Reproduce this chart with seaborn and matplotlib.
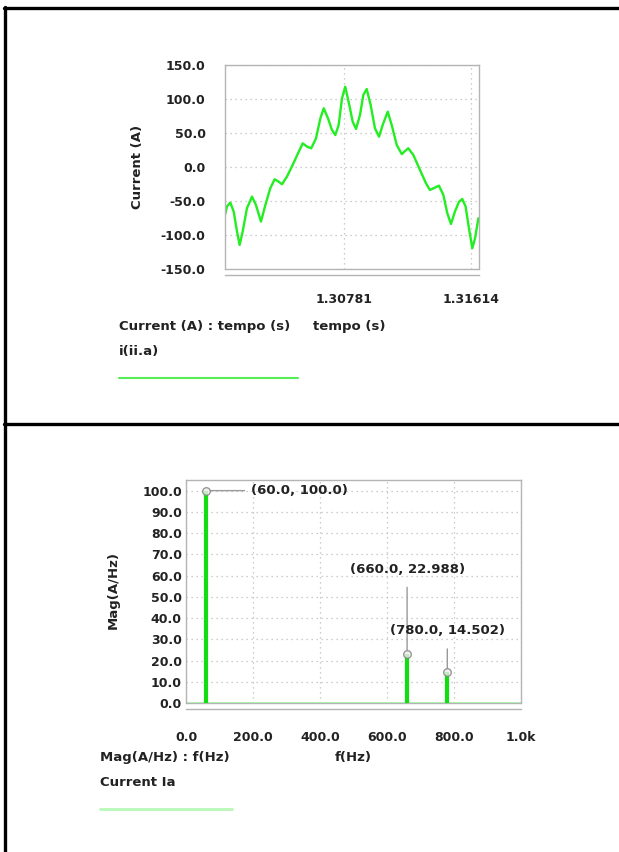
import matplotlib.pyplot as plt
import matplotlib.lines as mlines
import seaborn as sns

# waveform: tempo (s) / Current (A)
tempo = [1.30000, 1.30013, 1.30035, 1.30057, 1.30079, 1.30096, 1.30116, 1.30144,
         1.30177, 1.30203, 1.30236, 1.30265, 1.30297, 1.30326, 1.30352, 1.30374,
         1.30407, 1.30444, 1.30479, 1.30510, 1.30538, 1.30566, 1.30597, 1.30626,
         1.30648, 1.30676, 1.30702, 1.30724, 1.30746, 1.30768, 1.30789, 1.30816,
         1.30838, 1.30860, 1.30886, 1.30908, 1.30930, 1.30956, 1.30984, 1.31011,
         1.31035, 1.31068, 1.31094, 1.31127, 1.31160, 1.31181, 1.31203, 1.31236,
         1.31280, 1.31319, 1.31345, 1.31378, 1.31404, 1.31433, 1.31459, 1.31483,
         1.31509, 1.31536, 1.31557, 1.31579, 1.31601, 1.31623, 1.31641, 1.31663]
corrente = [-70.5, -58.0, -52.4, -65.6, -95.0, -114.6, -95.0, -60.7,
            -43.6, -55.8, -80.3, -55.8, -31.3, -18.0, -21.5, -25.4,
            -14.0, 3.0, 20.0, 34.8, 30.0, 27.5, 42.0, 71.6,
            86.3, 71.6, 54.4, 47.0, 61.8, 101.0, 118.0, 91.0,
            66.7, 56.0, 76.5, 106.0, 114.7, 91.0, 57.0, 44.6,
            61.8, 81.4, 61.8, 32.4, 19.0, 23.4, 27.5, 17.7,
            -4.4, -24.0, -33.8, -30.3, -27.4, -41.0, -68.0, -83.8,
            -65.6, -51.0, -47.0, -58.0, -90.0, -119.5, -104.8, -75.4]

# spectrum: f(Hz) / Mag(A/Hz)
freq = [60.0, 660.0, 780.0]
mag = [100.0, 22.988, 14.502]
base_f = [0.0, 1000.0]
base_mag = [0.0, 0.0]
labels = ["(60.0, 100.0)", "(660.0, 22.988)", "(780.0, 14.502)"]

top_ticks = [1.30781, 1.31614]
top_ticklabels = ["1.30781", "1.31614"]
top_yticks = [150, 100, 50, 0, -50, -100, -150]
bot_xticks = [0, 200, 400, 600, 800, 1000]
bot_xticklabels = ["0.0", "200.0", "400.0", "600.0", "800.0", "1.0k"]
bot_yticks = [0, 10, 20, 30, 40, 50, 60, 70, 80, 90, 100]

sns.set_style("white")
plt.rcParams["font.family"] = ["DejaVu Sans"]

W, H = 619, 852
fig = plt.figure(figsize=(6.19, 8.52), dpi=100)


def fx(px):
    return px / W


def fy(py):
    return 1 - py / H


BOX = "#b4b4b4"
GRID = "#bdbdbd"
FS = 9


def frame(ax, ypad, xpad):
    for s in ax.spines.values():
        s.set_color(BOX)
        s.set_linewidth(1.0)
    ax.spines["bottom"].set_position(("outward", 4))
    ax.axhline(ax.get_ylim()[0], color=BOX, lw=1.0, clip_on=False, zorder=0)
    ax.grid(True, ls=(0, (1, 3)), color=GRID, lw=0.9)
    ax.tick_params(axis="x", length=7, width=1, color="#9a9a9a", pad=xpad, labelsize=FS)
    ax.tick_params(axis="y", length=0, pad=ypad, labelsize=FS)
    for t in ax.get_xticklabels() + ax.get_yticklabels():
        t.set_fontweight("bold")
        t.set_color("#222222")
    ax.set_xlabel("")
    ax.set_ylabel("")


# ---- top panel: current waveform ----
ax1 = fig.add_axes([fx(225), fy(269), fx(479) - fx(225), fy(65) - fy(269)])
sns.lineplot(x=tempo, y=corrente, sort=False, estimator=None, color="#22ee22", lw=1.7,
             solid_joinstyle="round", ax=ax1)
ax1.set_xlim(1.30000, 1.31667)
ax1.set_ylim(-150, 150)
ax1.set_xticks(top_ticks)
ax1.set_xticklabels(top_ticklabels)
ax1.set_yticks(top_yticks)
ax1.set_yticklabels([f"{v:.1f}" for v in top_yticks])
frame(ax1, 14, 6)

fig.text(fx(137), fy(167), "Current (A)", rotation=90, ha="center", va="center",
         fontsize=FS + 0.5, fontweight="bold", color="#222222")
fig.text(fx(119), fy(326), "Current (A) : tempo (s)", ha="left", va="center",
         fontsize=FS + 0.5, fontweight="bold", color="#222222")
fig.text(fx(313), fy(326), "tempo (s)", ha="left", va="center",
         fontsize=FS + 0.5, fontweight="bold", color="#222222")
fig.text(fx(119), fy(352), "i(ii.a)", ha="left", va="center",
         fontsize=FS + 0.5, fontweight="bold", color="#222222")
fig.add_artist(mlines.Line2D([fx(119), fx(298)], [fy(378), fy(378)], color="#55ee55", lw=1.5))

# ---- bottom panel: spectrum ----
ax2 = fig.add_axes([fx(186), fy(703), fx(521) - fx(186), fy(480) - fy(703)])
sns.lineplot(x=base_f, y=base_mag, color="#a8f0a8", lw=2.0, ax=ax2)
ax2.vlines(freq, 0, mag, color="#11dd11", lw=3.0, zorder=3)
sns.scatterplot(x=freq, y=mag, s=30, facecolor="#eeeeee", edgecolor="#808080", linewidth=1.0,
                alpha=0.8, zorder=4, ax=ax2)
ax2.set_xlim(0, 1000)
ax2.set_ylim(0, 105)
ax2.set_xticks(bot_xticks)
ax2.set_xticklabels(bot_xticklabels)
ax2.set_yticks(bot_yticks)
ax2.set_yticklabels([f"{v:.1f}" for v in bot_yticks])
frame(ax2, 3, 9)

lbl_pos = [(193, 100.0), (660, 63.0), (780, 34.0)]
lbl_ha = ["left", "center", "center"]
lbl_shrink = [2, 6, 6]
for f, m, txt, pos, ha, sh in zip(freq, mag, labels, lbl_pos, lbl_ha, lbl_shrink):
    ax2.annotate(txt, xy=(f, m), xytext=pos, ha=ha, va="center", fontsize=FS + 0.5,
                 fontweight="bold", color="#222222",
                 arrowprops=dict(arrowstyle="-", color="#999999", lw=1.0, shrinkA=sh, shrinkB=3))

fig.text(fx(113), fy(590), "Mag(A/Hz)", rotation=90, ha="center", va="center",
         fontsize=FS + 0.5, fontweight="bold", color="#222222")
fig.text(fx(100), fy(758), "Mag(A/Hz) : f(Hz)", ha="left", va="center",
         fontsize=FS + 0.5, fontweight="bold", color="#222222")
fig.text(fx(335), fy(758), "f(Hz)", ha="left", va="center",
         fontsize=FS + 0.5, fontweight="bold", color="#222222")
fig.text(fx(100), fy(783), "Current Ia", ha="left", va="center",
         fontsize=FS + 0.5, fontweight="bold", color="#222222")
fig.add_artist(mlines.Line2D([fx(100), fx(232)], [fy(809), fy(809)], color="#b8f8b8", lw=2.0))

# ---- panel frame ----
fig.add_artist(mlines.Line2D([fx(4), fx(619)], [fy(8), fy(8)], color="black", lw=2.4))
fig.add_artist(mlines.Line2D([fx(5), fx(5)], [fy(7), fy(852)], color="black", lw=2.4))
fig.add_artist(mlines.Line2D([fx(4), fx(619)], [fy(424), fy(424)], color="black", lw=2.4))

fig.savefig("out.png", dpi=100)
